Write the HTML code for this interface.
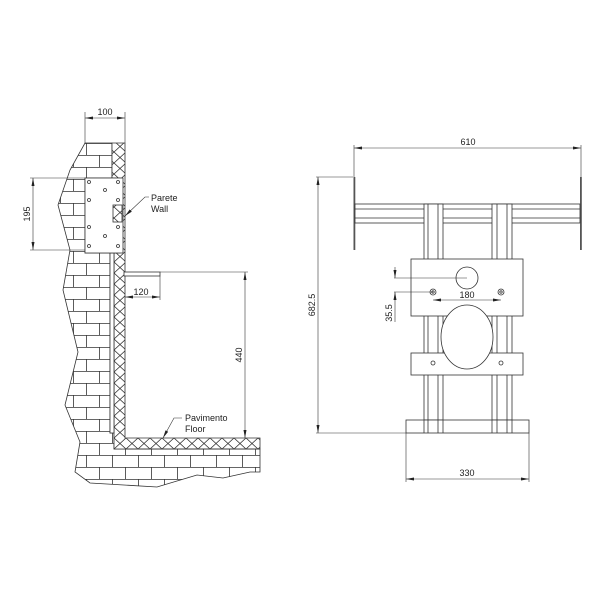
<!DOCTYPE html>
<html><head><meta charset="utf-8"><style>
html,body{margin:0;padding:0;background:#fff;}
svg{display:block;}
text{font-family:"Liberation Sans",sans-serif;font-size:9px;fill:#222;}
</style></head><body>
<svg width="600" height="600" viewBox="0 0 600 600" xmlns="http://www.w3.org/2000/svg">
<defs>
<pattern id="brick" width="26" height="24" patternUnits="userSpaceOnUse" x="0" y="143">
<rect width="26" height="24" fill="#fff"/>
<path d="M0 0.5H26M0 12.5H26M8.5 0V12M21.5 12V24" stroke="#333" stroke-width="0.8" fill="none"/>
</pattern>
<pattern id="hatch" width="12" height="11" patternUnits="userSpaceOnUse" x="114" y="438">
<rect width="12" height="11" fill="#fff"/>
<path d="M0 0L12 11M12 0L0 11" stroke="#333" stroke-width="0.8"/>
</pattern>
<marker id="ar" markerWidth="8" markerHeight="6" refX="8" refY="3" orient="auto-start-reverse" markerUnits="userSpaceOnUse">
<path d="M0 1.5L8 3L0 4.5Z" fill="#222"/>
</marker>
</defs>
<g stroke="#333" stroke-width="0.8" fill="none">
<path d="M85 143 L112 143 L112 178 L85 178 L85 253 L110 253 L110 433 L114 433 L114 449 L260 449 L260 472 L250 472 L223 478 L197 475 L157 487 L90 483 L75 472 L80 442 L65 405 L78 352 L63 290 L70 250 L58 205 L70 170 Z" fill="url(#brick)"/>
<path d="M112 143 L125 143 L125 438 L260 438 L260 449 L114 449 L114 253 L120 253 L120 178 L112 178 Z" fill="url(#hatch)"/>
<line x1="125" y1="449" x2="260" y2="449"/>
<rect x="110" y="253" width="4" height="180" fill="#fff"/>
<rect x="85" y="178" width="38" height="75" fill="#fff"/>
<rect x="113" y="205" width="9" height="17" fill="url(#hatch)"/>
<g fill="#fff">
<circle cx="89" cy="182" r="1.5"/><circle cx="118" cy="182" r="1.5"/>
<circle cx="105" cy="190" r="1.5"/>
<circle cx="89" cy="200" r="1.5"/><circle cx="118" cy="200" r="1.5"/>
<circle cx="89" cy="227" r="1.5"/><circle cx="118" cy="227" r="1.5"/>
<circle cx="105" cy="236" r="1.5"/>
<circle cx="89" cy="246" r="1.5"/><circle cx="118" cy="246" r="1.5"/>
</g>
<rect x="124" y="272" width="36" height="4" fill="#fff"/>
<line x1="85" y1="112" x2="85" y2="143" stroke-width="0.6"/>
<line x1="125" y1="112" x2="125" y2="143" stroke-width="0.6"/>
<line x1="85" y1="118" x2="125" y2="118" stroke-width="0.6" marker-start="url(#ar)" marker-end="url(#ar)"/>
<line x1="30" y1="178" x2="85" y2="178" stroke-width="0.6"/>
<line x1="30" y1="250" x2="85" y2="250" stroke-width="0.6"/>
<line x1="33" y1="178" x2="33" y2="250" stroke-width="0.6" marker-start="url(#ar)" marker-end="url(#ar)"/>
<line x1="160" y1="272" x2="248" y2="272" stroke-width="0.6"/>
<line x1="245" y1="272" x2="245" y2="438" stroke-width="0.6" marker-start="url(#ar)" marker-end="url(#ar)"/>
<line x1="160" y1="276" x2="160" y2="300" stroke-width="0.6"/>
<line x1="125" y1="297" x2="160" y2="297" stroke-width="0.6" marker-start="url(#ar)" marker-end="url(#ar)"/>
<path d="M149 197 L145 197 L125 216" stroke-width="0.6" marker-end="url(#ar)"/>
<path d="M182 418 L174 418 L163 438" stroke-width="0.6" marker-end="url(#ar)"/>

<rect x="353.5" y="177" width="1.8" height="73" fill="#555" stroke="none"/>
<rect x="580" y="177" width="1.8" height="73" fill="#555" stroke="none"/>
<rect x="355" y="204" width="225" height="19" fill="#fff"/>
<line x1="355" y1="209" x2="580" y2="209"/><line x1="355" y1="218" x2="580" y2="218"/>
<g fill="#fff">
<rect x="424" y="204" width="19" height="216"/>
<rect x="492" y="204" width="20" height="216"/>
</g>
<line x1="428" y1="204" x2="428" y2="420"/><line x1="438" y1="204" x2="438" y2="420"/>
<line x1="497" y1="204" x2="497" y2="420"/><line x1="507" y1="204" x2="507" y2="420"/>
<rect x="406" y="420" width="123" height="13" fill="#fff"/>
<line x1="424" y1="420" x2="424" y2="433"/><line x1="428" y1="420" x2="428" y2="433"/><line x1="438" y1="420" x2="438" y2="433"/><line x1="443" y1="420" x2="443" y2="433"/>
<line x1="492" y1="420" x2="492" y2="433"/><line x1="497" y1="420" x2="497" y2="433"/><line x1="507" y1="420" x2="507" y2="433"/><line x1="512" y1="420" x2="512" y2="433"/>
<rect x="411" y="259" width="112" height="57" fill="#fff"/>
<rect x="411" y="353" width="112" height="22" fill="#fff"/>
<ellipse cx="467" cy="337" rx="26" ry="32" fill="#fff"/>
<circle cx="467" cy="278" r="11" fill="#fff"/>
<circle cx="433" cy="292" r="3"/><circle cx="433" cy="292" r="1.2"/>
<circle cx="501" cy="292" r="3"/><circle cx="501" cy="292" r="1.2"/>
<circle cx="433" cy="363" r="2"/><circle cx="501" cy="363" r="2"/>
<line x1="354" y1="145" x2="354" y2="177" stroke-width="0.6"/>
<line x1="581" y1="145" x2="581" y2="177" stroke-width="0.6"/>
<line x1="354" y1="148" x2="581" y2="148" stroke-width="0.6" marker-start="url(#ar)" marker-end="url(#ar)"/>
<line x1="316" y1="177" x2="353" y2="177" stroke-width="0.6"/>
<line x1="316" y1="433" x2="406" y2="433" stroke-width="0.6"/>
<line x1="318" y1="177" x2="318" y2="433" stroke-width="0.6" marker-start="url(#ar)" marker-end="url(#ar)"/>
<line x1="406" y1="433" x2="406" y2="482" stroke-width="0.6"/>
<line x1="529" y1="433" x2="529" y2="482" stroke-width="0.6"/>
<line x1="406" y1="479" x2="529" y2="479" stroke-width="0.6" marker-start="url(#ar)" marker-end="url(#ar)"/>
<line x1="394" y1="278" x2="467" y2="278" stroke-width="0.6"/>
<line x1="394" y1="292" x2="433" y2="292" stroke-width="0.6"/>
<line x1="395" y1="267" x2="395" y2="278" stroke-width="0.6" marker-end="url(#ar)"/>
<line x1="395" y1="303" x2="395" y2="292" stroke-width="0.6" marker-end="url(#ar)"/>
<line x1="395" y1="303" x2="395" y2="322" stroke-width="0.6"/>
<line x1="433" y1="300" x2="501" y2="300" stroke-width="0.6" marker-start="url(#ar)" marker-end="url(#ar)"/>
</g>
<text x="105" y="115" text-anchor="middle">100</text>
<text x="30" y="214" text-anchor="middle" transform="rotate(-90 30 214)">195</text>
<text x="151" y="201">Parete</text>
<text x="151" y="212">Wall</text>
<text x="141" y="295" text-anchor="middle">120</text>
<text x="242" y="355" text-anchor="middle" transform="rotate(-90 242 355)">440</text>
<text x="185" y="421">Pavimento</text>
<text x="185" y="432">Floor</text>
<text x="468" y="145" text-anchor="middle">610</text>
<text x="315" y="305" text-anchor="middle" transform="rotate(-90 315 305)">682.5</text>
<text x="467" y="476" text-anchor="middle">330</text>
<text x="467" y="298" text-anchor="middle">180</text>
<text x="392" y="313" text-anchor="middle" transform="rotate(-90 392 313)">35.5</text>
</svg>
</body></html>
